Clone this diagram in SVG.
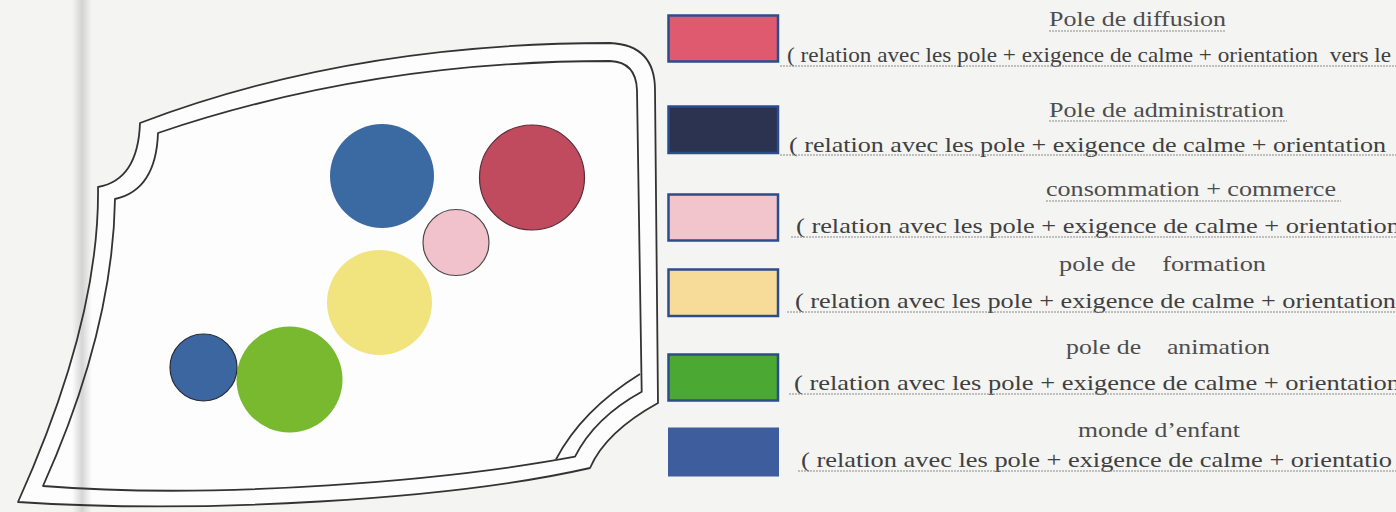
<svg xmlns="http://www.w3.org/2000/svg" width="1396" height="512" viewBox="0 0 1396 512">
  <defs>
    <linearGradient id="shadow" x1="0" y1="0" x2="1" y2="0">
      <stop offset="0" stop-color="#c9c9c9" stop-opacity="0"/>
      <stop offset="0.5" stop-color="#c4c4c4" stop-opacity="0.7"/>
      <stop offset="1" stop-color="#c9c9c9" stop-opacity="0"/>
    </linearGradient>
    <style>
      .wall { fill: none; stroke: #333333; stroke-width: 1.8; stroke-linejoin: round; }
      .swatch { stroke: #2c4c8c; stroke-width: 2.5; }
      .title { font-family: "Liberation Serif", "Times New Roman", serif; font-size: 22px; fill: #4d4d4d; }
      .desc { font-family: "Liberation Serif", "Times New Roman", serif; font-size: 22px; fill: #404040; }
      .uline { stroke: #8a8a8a; stroke-width: 1.2; stroke-dasharray: 2 1; }
    </style>
  </defs>

  <rect x="0" y="0" width="1396" height="512" fill="#f4f4f2"/>

  <!-- plan outline -->
  <g id="plan">
    <path d="M140,123 Q350,43 610,43 Q655,45 655,90 L658,403 Q605.5,432 590,468 C450,500 200,514 18,502 Q100,320 98,187 Q138,180 140,123 Z" fill="#fdfdfd" stroke="none"/>
    <rect x="72" y="0" width="20" height="512" fill="url(#shadow)"/>
    <path class="wall" d="M140,123 Q350,43 610,43 Q655,45 655,90 L658,403 Q605.5,432 590,468 C450,500 200,514 18,502 Q100,320 98,187 Q138,180 140,123 Z"/>
    <path class="wall" d="M158,133 Q370,61 610,61 Q636,62 637,90 L641.7,391.7 Q594.5,417.7 575,456.7 C450,480 220,500 43,486 Q113,330 115,199 Q156,190 158,133 Z"/>
    <path class="wall" d="M640,374 Q582,410 556,459.3"/>
  </g>

  <!-- poles -->
  <g id="pole-administration"><circle cx="382" cy="176" r="52" fill="#3b69a2"/></g>
  <g id="pole-diffusion"><circle cx="532" cy="177.5" r="52.5" fill="#c04a5e" stroke="#5a2c36" stroke-width="1.2"/></g>
  <g id="pole-commerce"><circle cx="456" cy="242.5" r="33" fill="#f2c2cc" stroke="#4a4a4a" stroke-width="1.2"/></g>
  <g id="pole-formation"><circle cx="379.5" cy="302.5" r="52.5" fill="#f1e37e"/></g>
  <g id="pole-animation"><circle cx="289.5" cy="379.5" r="53" fill="#79b930"/></g>
  <g id="monde-enfant"><circle cx="203.5" cy="367.5" r="33.5" fill="#3b66a0" stroke="#2a2a35" stroke-width="1.2"/></g>

  <!-- legend -->
  <g id="legend-diffusion">
    <rect class="swatch" x="668.5" y="15.5" width="109.5" height="46" fill="#e05a6f"/>
    <text class="title" x="1049" y="26" textLength="177" lengthAdjust="spacingAndGlyphs">Pole de diffusion</text>
    <line class="uline" x1="1049" y1="31" x2="1226" y2="31"/>
    <text class="desc" x="787" y="62" textLength="604" lengthAdjust="spacingAndGlyphs" xml:space="preserve">( relation avec les pole + exigence de calme + orientation  vers le</text>
    <line class="uline" x1="780" y1="66" x2="1396" y2="66"/>
  </g>

  <g id="legend-administration">
    <rect class="swatch" x="668.5" y="106.5" width="109.5" height="46.5" fill="#2b3350"/>
    <text class="title" x="1049" y="117" textLength="235" lengthAdjust="spacingAndGlyphs">Pole de administration</text>
    <line class="uline" x1="1049" y1="121" x2="1287" y2="121"/>
    <text class="desc" x="789" y="152" textLength="597" lengthAdjust="spacingAndGlyphs">( relation avec les pole + exigence de calme + orientation</text>
    <line class="uline" x1="780" y1="155" x2="1396" y2="155"/>
  </g>

  <g id="legend-commerce">
    <rect class="swatch" x="668.5" y="194.5" width="109.5" height="46" fill="#f2c4cc"/>
    <text class="title" x="1046" y="196" textLength="290" lengthAdjust="spacingAndGlyphs">consommation + commerce</text>
    <line class="uline" x1="1046" y1="201" x2="1341" y2="201"/>
    <text class="desc" x="796" y="233" textLength="604" lengthAdjust="spacingAndGlyphs">( relation avec les pole + exigence de calme + orientation</text>
    <line class="uline" x1="791" y1="237" x2="1396" y2="237"/>
  </g>

  <g id="legend-formation">
    <rect class="swatch" x="668.5" y="269.5" width="109.5" height="46.5" fill="#f6dc98"/>
    <text class="title" x="1059" y="271" textLength="207" lengthAdjust="spacingAndGlyphs" xml:space="preserve">pole de    formation</text>
    <text class="desc" x="795" y="308" textLength="601" lengthAdjust="spacingAndGlyphs">( relation avec les pole + exigence de calme + orientation</text>
    <line class="uline" x1="787" y1="312" x2="1396" y2="312"/>
  </g>

  <g id="legend-animation">
    <rect class="swatch" x="668.5" y="354.5" width="109.5" height="46" fill="#4aa833"/>
    <text class="title" x="1066" y="354" textLength="204" lengthAdjust="spacingAndGlyphs" xml:space="preserve">pole de    animation</text>
    <text class="desc" x="794" y="390" textLength="606" lengthAdjust="spacingAndGlyphs">( relation avec les pole + exigence de calme + orientation</text>
    <line class="uline" x1="789" y1="394" x2="1396" y2="394"/>
  </g>

  <g id="legend-enfant">
    <rect x="668" y="427.5" width="111" height="49" fill="#3d5d9c"/>
    <text class="title" x="1078" y="437" textLength="162" lengthAdjust="spacingAndGlyphs">monde d’enfant</text>
    <text class="desc" x="801" y="467" textLength="591" lengthAdjust="spacingAndGlyphs">( relation avec les pole + exigence de calme + orientatio</text>
    <line class="uline" x1="798" y1="471" x2="1396" y2="471"/>
  </g>
</svg>
